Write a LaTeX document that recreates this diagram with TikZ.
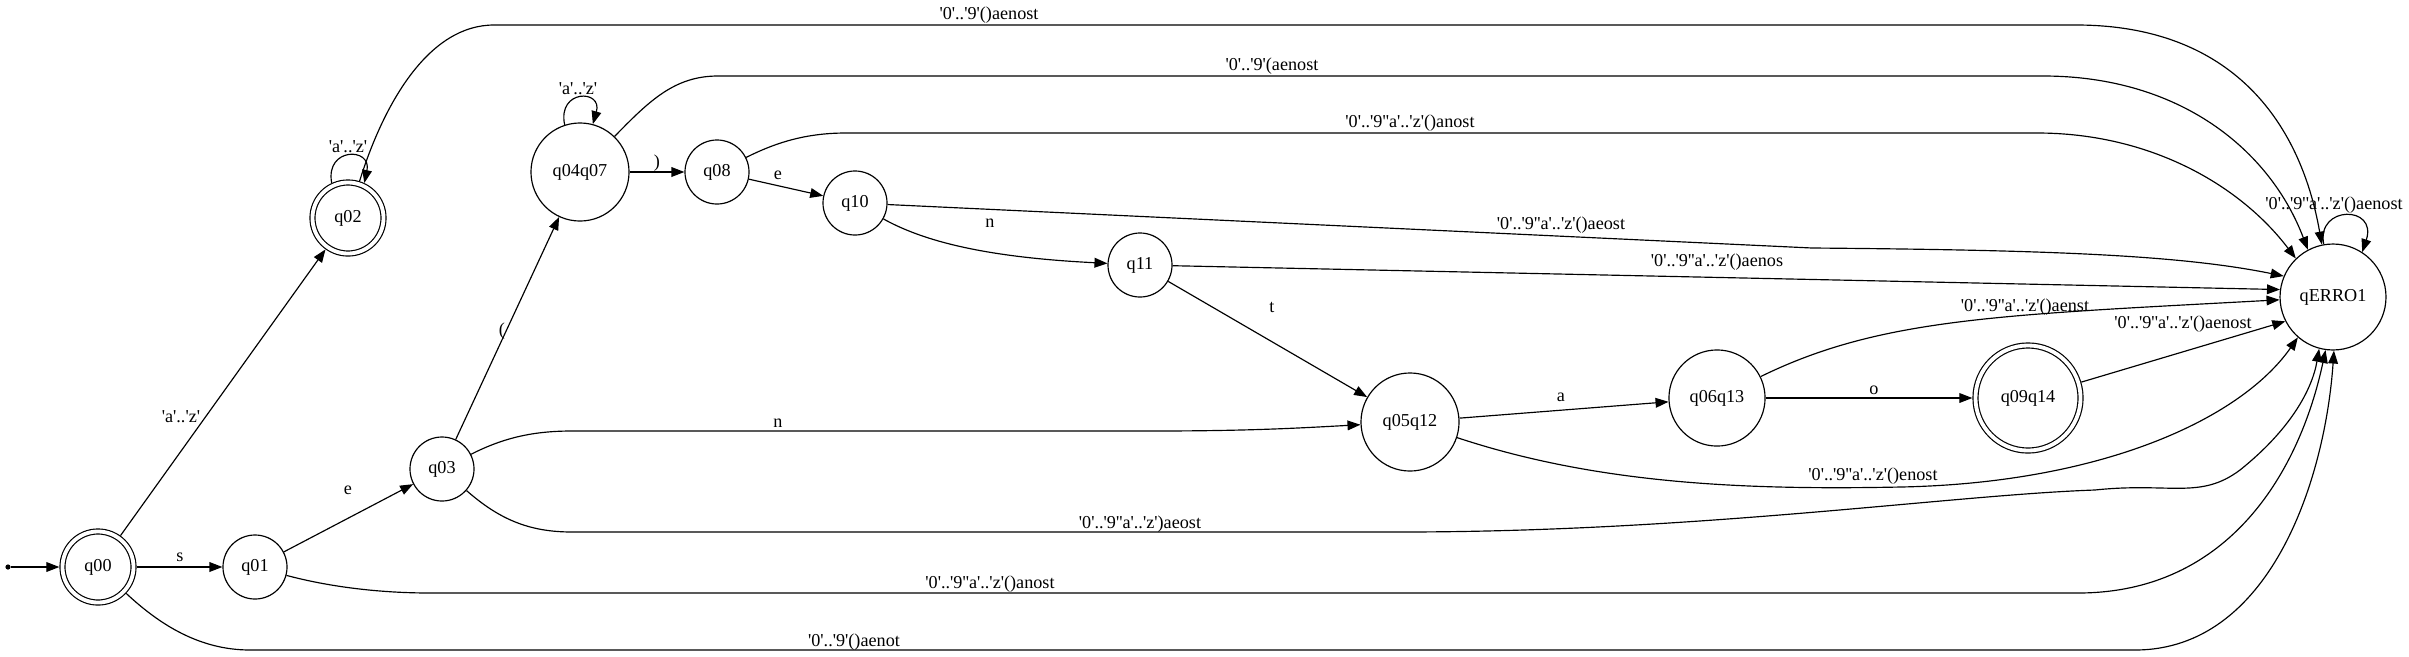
\documentclass[tikz,border=0pt]{standalone}
\usepackage{fontspec}
\setmainfont{Liberation Serif}[Ligatures=TeXOff]
\usetikzlibrary{arrows.meta}
\begin{document}
\begin{tikzpicture}[x=0.77pt,y=-0.77pt, line width=0.9pt,
  >={Triangle[length=10pt,width=7.5pt]},
  st/.style={draw,circle,inner sep=0pt,minimum size=49.3pt,font=\fontsize{14}{16}\selectfont},
  big/.style={st,minimum size=75.5pt},
  acc/.style={st,double,double distance=2.95pt,outer sep=2.4pt},
  lbl/.style={font=\fontsize{14}{16}\selectfont,inner sep=0pt},
  tr/.style={->}]
\useasboundingbox (0,0) rectangle (2409,656);
% states
\node[circle,fill,inner sep=0pt,minimum size=4pt] (init) at (8,567) {};
\node[acc,minimum size=54.7pt] (q00) at (98,567) {q00};
\node[st] (q01) at (255,567) {q01};
\node[acc,minimum size=54.7pt] (q02) at (348,218) {q02};
\node[st] (q03) at (442,469) {q03};
\node[big] (q04q07) at (580,172) {q04q07};
\node[st] (q08) at (717,172) {q08};
\node[st] (q10) at (855,203) {q10};
\node[st] (q11) at (1140,265) {q11};
\node[big] (q05q12) at (1410,422) {q05q12};
\node[big,minimum size=74pt] (q06q13) at (1717,398) {q06q13};
\node[acc,minimum size=80.9pt] (q09q14) at (2028,398) {q09q14};
\node[st,minimum size=81.6pt] (qERRO1) at (2333,297) {qERRO1};
% simple transitions
\draw[tr] (init) -- (q00);
\draw[tr] (q00) -- (q01);
\draw[tr] (q00) -- (q02);
\draw[tr] (q01) -- (q03);
\draw[tr] (q03) -- (q04q07);
\draw[tr] (q04q07) -- (q08);
\draw[tr] (q08) -- (q10);
\draw[tr] (q10) .. controls (930,245) and (1000,258) .. (q11);
\draw[tr] (q11) -- (q05q12);
\draw[tr] (q03) .. controls (505,437) and (535,431) .. (572,431) -- (1153,431) .. controls (1250,431) and (1300,428) .. (q05q12);
\draw[tr] (q05q12) -- (q06q13);
\draw[tr] (q06q13) -- (q09q14);
% self loops
\draw[tr] (q02.115) .. controls (325,147) and (372,147) .. (q02.65);
\draw[tr] (q04q07.108) .. controls (557,89) and (603,89) .. (q04q07.75);
\draw[tr] (qERRO1.100) .. controls (2316,205) and (2378,205) .. (qERRO1.57);
% error transitions
\draw[tr] (q02) .. controls (385,100) and (430,25) .. (494,25) -- (2076,25) .. controls (2230,25) and (2300,120) .. (qERRO1.102);
\draw[tr] (q04q07) .. controls (650,100) and (675,76) .. (718,76) -- (2043,76) .. controls (2180,76) and (2270,150) .. (qERRO1.118);
\draw[tr] (q08) .. controls (775,143) and (805,133) .. (846,133) -- (2037,133) .. controls (2150,133) and (2240,185) .. (qERRO1.134);
\draw[tr] (q10) -- (1812,248) .. controls (2050,250) and (2180,255) .. (qERRO1.157);
\draw[tr] (q11) -- (qERRO1.172);
\draw[tr] (q06q13) .. controls (1880,318) and (2000,315) .. (qERRO1.183);
\draw[tr] (q09q14) -- (qERRO1.207);
\draw[tr] (q05q12) .. controls (1600,485) and (1750,490) .. (1901,487) .. controls (2100,483) and (2240,420) .. (qERRO1.229);
\draw[tr] (q03) .. controls (500,520) and (530,532) .. (572,532) -- (1400,532) .. controls (1700,532) and (1950,495) .. (2095,490) .. controls (2170,482) and (2200,500) .. (2240,470) .. controls (2290,430) and (2312,390) .. (qERRO1.255);
\draw[tr] (q01) .. controls (330,587) and (380,593) .. (430,593) -- (2078,593) .. controls (2230,593) and (2300,470) .. (qERRO1.262);
\draw[tr] (q00) .. controls (160,625) and (200,650) .. (250,650) -- (2135,650) .. controls (2270,650) and (2325,480) .. (qERRO1.271);
% labels
\node[lbl] (l1) at (180,557) {s};
\node[lbl] (l2) at (181,417) {'a'..'z'};
\node[lbl] (l3) at (348,490) {e};
\node[lbl] (l4) at (502,331) {(};
\node[lbl] (l5) at (657,163) {)};
\node[lbl] (l6) at (778,175) {e};
\node[lbl] (l7) at (990,223) {n};
\node[lbl] (l8) at (1272,307) {t};
\node[lbl] (l9) at (778,423) {n};
\node[lbl] (l10) at (1561,397) {a};
\node[lbl] (l11) at (1874,390) {o};
\node[lbl] (l12) at (348,147) {'a'..'z'};
\node[lbl] (l13) at (578,89) {'a'..'z'};
\node[lbl] (l14) at (989,15) {'0'..'9'()aenost};
\node[lbl] (l15) at (1272,66) {'0'..'9'(aenost};
\node[lbl] (l16) at (1410,123) {'0'..'9''a'..'z'()anost};
\node[lbl] (l17) at (1561,225) {'0'..'9''a'..'z'()aeost};
\node[lbl] (l18) at (1717,262) {'0'..'9''a'..'z'()aenos};
\node[lbl] (l19) at (2025,307) {'0'..'9''a'..'z'()aenst};
\node[lbl] (l20) at (2183,324) {'0'..'9''a'..'z'()aenost};
\node[lbl] (l21) at (1873,476) {'0'..'9''a'..'z'()enost};
\node[lbl] (l22) at (1140,524) {'0'..'9''a'..'z')aeost};
\node[lbl] (l23) at (990,584) {'0'..'9''a'..'z'()anost};
\node[lbl] (l24) at (854,642) {'0'..'9'()aenot};
\node[lbl] (l25) at (2334,205) {'0'..'9''a'..'z'()aenost};
\end{tikzpicture}
\end{document}
